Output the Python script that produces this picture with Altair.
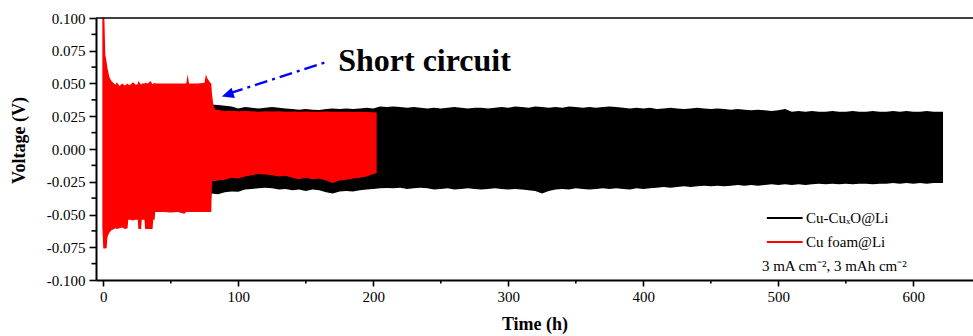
import altair as alt
import pandas as pd

# ---------------- data (envelopes) ----------------
# Cu foam@Li (red): time (h), upper and lower voltage envelope (V)
red_t = [-0.7, 0.0, 0.8, 1.5, 2.5, 3.0, 3.5, 4.5, 6.0, 8.0, 9.0, 10.0, 12.0, 14.0, 16.0, 18.0,
         18.5, 20.0, 22.0, 24.0, 25.5, 26.0, 28.0, 28.5, 30.5, 31.0, 33.0, 35.0, 36.5, 37.0,
         38.0, 38.5, 45.0, 50.0, 55.0, 60.0, 61.5, 62.5, 63.5, 70.0, 75.0, 76.0, 77.0, 79.0,
         80.0, 80.5, 81.5, 83.0, 85.0, 90.0, 95.0, 100.0, 105.0, 110.0, 115.0, 120.0, 125.0,
         130.0, 135.0, 140.0, 145.0, 150.0, 155.0, 160.0, 165.0, 170.0, 175.0, 180.0, 185.0,
         190.0, 195.0, 200.0, 202.5]
red_hi = [0.100, 0.100, 0.100, 0.072, 0.066, 0.062, 0.060, 0.055, 0.052, 0.050, 0.049, 0.051,
          0.048, 0.050, 0.0485, 0.050, 0.049, 0.049, 0.051, 0.049, 0.0495, 0.052, 0.049, 0.050,
          0.050, 0.0505, 0.050, 0.052, 0.0495, 0.050, 0.0505, 0.050, 0.050, 0.050, 0.050,
          0.050, 0.0502, 0.057, 0.050, 0.050, 0.0505, 0.057, 0.054, 0.051, 0.050, 0.042,
          0.034, 0.030, 0.0298, 0.029, 0.0292, 0.0288, 0.029, 0.0288, 0.0285, 0.0288, 0.0286,
          0.0288, 0.0285, 0.0287, 0.0284, 0.0286, 0.0285, 0.0284, 0.0286, 0.0285, 0.0284,
          0.0285, 0.0283, 0.0284, 0.0282, 0.0280, 0.0278]
red_lo = [-0.060, -0.076, -0.076, -0.076, -0.0755, -0.068, -0.066, -0.064, -0.062, -0.061,
          -0.0605, -0.061, -0.0605, -0.060, -0.061, -0.0605, -0.054, -0.054, -0.0545, -0.054,
          -0.054, -0.061, -0.061, -0.054, -0.054, -0.061, -0.061, -0.061, -0.061, -0.054,
          -0.054, -0.048, -0.048, -0.0485, -0.048, -0.0495, -0.048, -0.048, -0.048, -0.048,
          -0.048, -0.048, -0.048, -0.048, -0.048, -0.025, -0.0245, -0.0245, -0.024, -0.0235,
          -0.022, -0.0225, -0.021, -0.020, -0.019, -0.0195, -0.020, -0.021, -0.0205, -0.022,
          -0.023, -0.022, -0.023, -0.0225, -0.024, -0.026, -0.024, -0.0235, -0.0225, -0.022,
          -0.021, -0.019, -0.0185]

# Cu-CuxO@Li (black): time (h), upper and lower voltage envelope (V)
black_t = [0.0, 79.5] + [80 + 5 * i for i in range(109)] + [622.0]
black_hi = [0.045, 0.045,
            0.034, 0.0335, 0.033, 0.0325, 0.031, 0.032, 0.0315, 0.031, 0.0315, 0.032,
            0.0315, 0.031, 0.0305, 0.030, 0.0305, 0.030, 0.0298, 0.0305, 0.031, 0.0305,
            0.031, 0.0305, 0.031, 0.0315, 0.031, 0.0325, 0.032, 0.0325, 0.032, 0.0315,
            0.032, 0.0315, 0.031, 0.0315, 0.031, 0.0315, 0.032, 0.0315, 0.031, 0.0315,
            0.0315, 0.031, 0.0315, 0.032, 0.0315, 0.0325, 0.032, 0.0315, 0.0325, 0.032,
            0.0315, 0.032, 0.0315, 0.0325, 0.032, 0.0315, 0.032, 0.0315, 0.032, 0.0325,
            0.032, 0.0315, 0.031, 0.0315, 0.031, 0.0315, 0.0305, 0.031, 0.0315, 0.031,
            0.0305, 0.031, 0.0315, 0.031, 0.0305, 0.031, 0.0305, 0.030, 0.0305, 0.030,
            0.0295, 0.030, 0.0295, 0.029, 0.0295, 0.0305, 0.0285, 0.029, 0.0285, 0.029,
            0.0285, 0.0285, 0.029, 0.0285, 0.0285, 0.029, 0.0285, 0.0285, 0.029, 0.0285,
            0.0285, 0.029, 0.0285, 0.029, 0.0285, 0.0285, 0.029, 0.0285, 0.0285,
            0.0285]
black_lo = [-0.045, -0.045,
            -0.034, -0.0345, -0.033, -0.0325, -0.0326, -0.031, -0.0305, -0.030, -0.0295,
            -0.030, -0.031, -0.0305, -0.0315, -0.031, -0.032, -0.031, -0.0315, -0.033,
            -0.034, -0.0325, -0.032, -0.0325, -0.0315, -0.031, -0.0305, -0.030, -0.0298,
            -0.030, -0.0295, -0.0305, -0.030, -0.0295, -0.030, -0.031, -0.0305, -0.030,
            -0.031, -0.0305, -0.030, -0.0305, -0.031, -0.0305, -0.030, -0.0305, -0.031,
            -0.0305, -0.031, -0.0315, -0.032, -0.034, -0.032, -0.031, -0.0305, -0.031,
            -0.030, -0.0305, -0.031, -0.0305, -0.030, -0.0305, -0.030, -0.0305, -0.031,
            -0.030, -0.0305, -0.030, -0.0295, -0.029, -0.0295, -0.029, -0.0285, -0.029,
            -0.0285, -0.028, -0.0285, -0.028, -0.0285, -0.028, -0.0275, -0.028, -0.0275,
            -0.028, -0.0275, -0.027, -0.0275, -0.027, -0.0275, -0.027, -0.0275, -0.027,
            -0.0265, -0.027, -0.0265, -0.027, -0.0265, -0.027, -0.0265, -0.0265, -0.027,
            -0.0265, -0.0265, -0.026, -0.0265, -0.026, -0.0265, -0.026, -0.0265, -0.026,
            -0.026, -0.026]

# axis ticks
x_major = [0, 100, 200, 300, 400, 500, 600]
x_minor = [50, 150, 250, 350, 450, 550]
y_major = [-0.1, -0.075, -0.05, -0.025, 0.0, 0.025, 0.05, 0.075, 0.1]
y_minor = [-0.0875, -0.0625, -0.0375, -0.0125, 0.0125, 0.0375, 0.0625, 0.0875]

# legend / annotations (data coordinates)
series_names = ["Cu-Cu\u2093O@Li", "Cu foam@Li"]
series_colors = ["#000000", "#ff0000"]
legend_x1, legend_x2, legend_tx = 491.5, 518.0, 520.5
legend_y = [-0.0527, -0.0710]
cond_text = "3 mA cm\u207b\u00b2, 3 mAh cm\u207b\u00b2"
cond_x, cond_y = 541.5, -0.0893
arrow_t = [164.0, 94.0]
arrow_v = [0.0660, 0.0426]
tip_t, tip_v = 87.8, 0.0400
label_text = "Short circuit"
label_t, label_v = 174.0, 0.0592

FONT = "Liberation Serif"
W, H = 877, 262

df_red = pd.DataFrame({"t": red_t, "hi": red_hi, "lo": red_lo})
df_black = pd.DataFrame({"t": black_t, "hi": black_hi, "lo": black_lo})

xs = alt.Scale(domain=[-5.4, 644.2], nice=False, zero=False)
ys = alt.Scale(domain=[-0.1, 0.1], nice=False, zero=False)

x_axis = alt.Axis(
    values=x_major, format="d",
    tickSize=6, tickWidth=1.6, domainWidth=2, domainColor="black", tickColor="black",
    labelFont=FONT, labelFontSize=15, labelColor="black", labelPadding=3,
    title="Time (h)", titleFont=FONT, titleFontSize=18, titleFontWeight="bold",
    titleColor="black", titlePadding=11, grid=False,
)
y_axis = alt.Axis(
    values=y_major,
    labelExpr="replace(format(datum.value, '.3f'), '\u2212', '-')",
    tickSize=7, tickWidth=1.6, domainWidth=2, domainColor="black", tickColor="black",
    labelFont=FONT, labelFontSize=15, labelColor="black", labelPadding=4,
    title="Voltage (V)", titleFont=FONT, titleFontSize=18, titleFontWeight="bold",
    titleColor="black", titlePadding=18, titleY=122, grid=False,
)


def X(field):
    return alt.X(field, scale=xs, axis=x_axis)


def Y(field):
    return alt.Y(field, scale=ys, axis=y_axis)


black = alt.Chart(df_black).mark_area(color="#000000", opacity=1).encode(
    x=X("t:Q"), y=Y("hi:Q"), y2="lo:Q",
)
red = alt.Chart(df_red).mark_area(color="#ff0000", opacity=1).encode(
    x=X("t:Q"), y=Y("hi:Q"), y2="lo:Q",
)

top_border = alt.Chart(pd.DataFrame({"a": [0]})).mark_rule(
    color="black", strokeWidth=1.5
).encode(y=alt.value(0))

x_minor_ticks = alt.Chart(pd.DataFrame({"v": x_minor})).mark_rule(
    color="black", strokeWidth=1.6
).encode(
    x=X("v:Q"), y=alt.value(H), y2=alt.value(H + 3.5),
)
y_minor_ticks = alt.Chart(pd.DataFrame({"v": y_minor})).mark_rule(
    color="black", strokeWidth=1.6
).encode(
    y=Y("v:Q"), x=alt.value(-4.5), x2=alt.value(0),
)

df_leg = pd.DataFrame({
    "name": series_names, "c": series_colors, "y": legend_y,
    "x1": [legend_x1] * 2, "x2": [legend_x2] * 2, "tx": [legend_tx] * 2,
})
leg_lines = alt.Chart(df_leg).mark_rule(strokeWidth=2).encode(
    x=X("x1:Q"), x2="x2:Q", y=Y("y:Q"),
    color=alt.Color("c:N", scale=None),
)
leg_text = alt.Chart(df_leg).mark_text(
    align="left", baseline="middle", font=FONT, fontSize=15, color="black"
).encode(
    x=X("tx:Q"), y=Y("y:Q"), text="name:N",
)
cond = alt.Chart(pd.DataFrame({"x": [cond_x], "y": [cond_y], "s": [cond_text]})).mark_text(
    align="center", baseline="middle", font=FONT, fontSize=15, color="black"
).encode(
    x=X("x:Q"), y=Y("y:Q"), text="s:N",
)

arrow_line = alt.Chart(pd.DataFrame({"t": arrow_t, "v": arrow_v})).mark_line(
    color="#0000ff", strokeWidth=2.4, strokeDash=[13, 5, 3, 5]
).encode(
    x=X("t:Q"), y=Y("v:Q"),
)
arrow_head = alt.Chart(pd.DataFrame({"t": [tip_t], "v": [tip_v]})).mark_point(
    shape="M0,0L0.45,1L-0.45,1Z", filled=True, color="#0000ff", opacity=1,
    size=576, angle=252, strokeWidth=0
).encode(
    x=X("t:Q"), y=Y("v:Q"),
)
short_label = alt.Chart(pd.DataFrame({"t": [label_t], "v": [label_v], "s": [label_text]})).mark_text(
    align="left", baseline="alphabetic", font=FONT, fontSize=32, fontWeight="bold", color="black"
).encode(
    x=X("t:Q"), y=Y("v:Q"), text="s:N",
)

chart = alt.layer(
    black, red, top_border, x_minor_ticks, y_minor_ticks,
    leg_lines, leg_text, cond, arrow_line, arrow_head, short_label
).properties(
    width=W, height=H,
    padding={"left": 96, "top": 18, "right": 0, "bottom": 56},
    autosize=alt.AutoSizeParams(type="none"),
    background="white",
).configure_view(stroke=None)

chart.save("out.html", embed_options={"renderer": "svg", "actions": False})
